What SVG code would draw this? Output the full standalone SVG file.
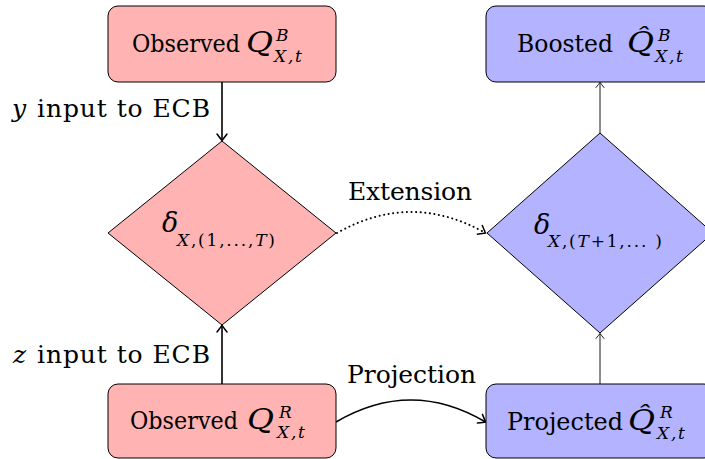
<svg xmlns="http://www.w3.org/2000/svg" width="705" height="459" viewBox="0 0 705 459">
<style>
.t{font-family:"DejaVu Serif","Liberation Serif",serif;font-size:24px;fill:#000}
.l{font-size:25px}
.i{font-style:italic}
.q{font-size:27px;font-style:italic}
.s{font-size:17px}
.ss{font-size:17px;letter-spacing:1.8px}
.red{fill:#ffb3b3;stroke:#000;stroke-width:1}
.blue{fill:#b3b3ff;stroke:#000;stroke-width:1}
.thick{fill:none;stroke:#000;stroke-width:1.6}
.thin{fill:none;stroke:#000;stroke-width:0.9}
.dot{fill:none;stroke:#000;stroke-width:2;stroke-dasharray:0.1 4.5;stroke-linecap:round}
</style>
<defs>
<marker id="ah" viewBox="-8 -7 10 14" refX="0" refY="0" markerWidth="10" markerHeight="14" markerUnits="userSpaceOnUse" orient="auto">
<path d="M-6.5,-5 Q-1.5,-1.2 0,0 Q-1.5,1.2 -6.5,5" fill="none" stroke="#000" stroke-width="1.5" stroke-linecap="round"/>
</marker>
<marker id="ahs" viewBox="-8 -7 10 14" refX="0" refY="0" markerWidth="10" markerHeight="14" markerUnits="userSpaceOnUse" orient="auto">
<path d="M-5,-4 Q-1.2,-1 0,0 Q-1.2,1 -5,4" fill="none" stroke="#000" stroke-width="0.9" stroke-linecap="round"/>
</marker>
</defs>

<g id="connectors">
<line class="thick" x1="222" y1="82" x2="222" y2="140.5" marker-end="url(#ah)"/>
<line class="thick" x1="222" y1="384" x2="222" y2="325.5" marker-end="url(#ah)"/>
<line class="thin" x1="600" y1="133" x2="600" y2="82.5" marker-end="url(#ahs)"/>
<line class="thin" x1="600" y1="384" x2="600" y2="333.5" marker-end="url(#ahs)"/>
<path class="dot" d="M337,233 Q411,191 485.5,233" marker-end="url(#ah)"/>
<path class="thick" d="M336,422 Q411,378 485.5,422" marker-end="url(#ah)"/>
<text class="t l i" x="12" y="117">y</text>
<text class="t l" x="37" y="117" textLength="173" lengthAdjust="spacing">input to ECB</text>
<text class="t l i" x="13" y="363">z</text>
<text class="t l" x="37" y="363" textLength="173" lengthAdjust="spacing">input to ECB</text>
<text class="t l" x="348" y="200" textLength="124" lengthAdjust="spacing">Extension</text>
<text class="t l" x="347" y="383" textLength="129" lengthAdjust="spacing">Projection</text>
</g>

<g id="obsB">
<rect class="red" x="108" y="6" width="228" height="76" rx="10"/>
<text class="t" x="132" y="52" textLength="108" lengthAdjust="spacingAndGlyphs">Observed</text>
<text class="t q" x="246" y="52" textLength="27" lengthAdjust="spacingAndGlyphs">Q</text>
<text class="t i s" x="276" y="41">B</text>
<text class="t i ss" x="274" y="62">X,t</text>
</g>

<g id="boostB">
<rect class="blue" x="486" y="6" width="228" height="76" rx="10"/>
<text class="t" x="517" y="52" textLength="96" lengthAdjust="spacingAndGlyphs">Boosted</text>
<text class="t q" x="627" y="52" textLength="27" lengthAdjust="spacingAndGlyphs">Q&#x302;</text>
<text class="t i s" x="658" y="41">B</text>
<text class="t i ss" x="655" y="62">X,t</text>
</g>

<g id="deltaL">
<polygon class="red" points="222,141 336,233 222,325 108,233"/>
<text class="t i" x="162" y="232" style="font-size:27px">δ</text>
<text class="t ss" x="177" y="246"><tspan class="i">X</tspan>,(1,...,<tspan class="i">T</tspan>)</text>
</g>

<g id="deltaR">
<polygon class="blue" points="600,133 713,233 600,333 487,233"/>
<text class="t i" x="534" y="234" style="font-size:27px">δ</text>
<text class="t ss" x="548" y="247"><tspan class="i">X</tspan>,(<tspan class="i">T</tspan>+1,... )</text>
</g>

<g id="obsR">
<rect class="red" x="108" y="384" width="228" height="74" rx="10"/>
<text class="t" x="130" y="429" textLength="108" lengthAdjust="spacingAndGlyphs">Observed</text>
<text class="t q" x="247" y="429" textLength="27" lengthAdjust="spacingAndGlyphs">Q</text>
<text class="t i s" x="279" y="418">R</text>
<text class="t i ss" x="277" y="438">X,t</text>
</g>

<g id="projR">
<rect class="blue" x="486" y="384" width="228" height="74" rx="10"/>
<text class="t" x="507" y="430" textLength="116" lengthAdjust="spacingAndGlyphs">Projected</text>
<text class="t q" x="628" y="430" textLength="27" lengthAdjust="spacingAndGlyphs">Q&#x302;</text>
<text class="t i s" x="660" y="418">R</text>
<text class="t i ss" x="657" y="439">X,t</text>
</g>
</svg>
